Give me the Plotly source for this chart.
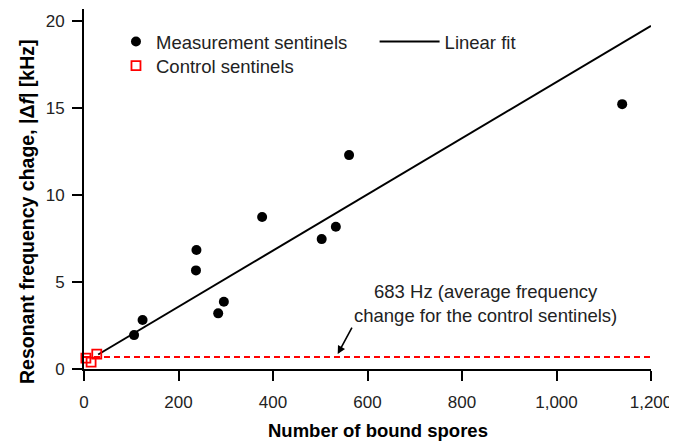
import plotly.graph_objects as go

# Data
meas_x = [106, 124, 237, 238, 284, 296, 377, 503, 533, 561, 1139]
meas_y = [1.95, 2.82, 5.67, 6.84, 3.2, 3.87, 8.74, 7.47, 8.18, 12.3, 15.23]
ctrl_x = [4, 15, 27]
ctrl_y = [0.63, 0.4, 0.86]
fit_x = [30, 1200]
fit_slope = 0.01615
fit_intercept = 0.35
fit_y = [fit_intercept + fit_slope * v for v in fit_x]
avg_ctrl_khz = 0.683
avg_x = [0, 1200]
x_ticks = [0, 200, 400, 600, 800, 1000, 1200]
y_ticks = [0, 5, 10, 15, 20]

FONT = "Arial, Liberation Sans, sans-serif"

fig = go.Figure()
fig.add_trace(go.Scatter(
    x=meas_x, y=meas_y, mode="markers", name="Measurement sentinels", legend="legend",
    marker=dict(color="black", size=10, symbol="circle"), cliponaxis=False))
fig.add_trace(go.Scatter(
    x=fit_x, y=fit_y, mode="lines", name="Linear fit", legend="legend2",
    line=dict(color="black", width=2), cliponaxis=False))
fig.add_trace(go.Scatter(
    x=ctrl_x, y=ctrl_y, mode="markers", name="Control sentinels", legend="legend3",
    marker=dict(color="red", size=9, symbol="square-open", line=dict(width=1.8, color="red")),
    cliponaxis=False))
fig.add_trace(go.Scatter(
    x=avg_x, y=[avg_ctrl_khz, avg_ctrl_khz], mode="lines", showlegend=False,
    line=dict(color="red", width=2, dash="6px,4px"), cliponaxis=False))

fig.add_annotation(
    x=849, y=3.76, xref="x", yref="y", showarrow=False,
    text="683 Hz (average frequency<br>change for the control sentinels)",
    font=dict(family=FONT, size=18.5, color="#222"), align="center")
fig.add_annotation(
    x=537, y=0.86, xref="x", yref="y", text="", showarrow=True,
    ax=15, ay=-28, arrowhead=2, arrowsize=1, arrowwidth=1.6, arrowcolor="black")

# axis titles
fig.add_annotation(
    x=0, y=0.436, xref="paper", yref="paper", xanchor="center", yanchor="middle",
    xshift=-57, showarrow=False, textangle=-90,
    text="<b>Resonant frequency chage, |Δ<i>f</i>| [kHz]</b>",
    font=dict(family=FONT, size=19.5, color="black"))
fig.add_annotation(
    x=0.5, y=0, xref="paper", yref="paper", xanchor="center", yanchor="middle",
    xshift=10, yshift=-61, showarrow=False,
    text="<b>Number of bound spores</b>",
    font=dict(family=FONT, size=18.5, color="black"))

legend_common = dict(orientation="v", xanchor="left", yanchor="top",
                     font=dict(family=FONT, size=18.5, color="#222"),
                     bgcolor="rgba(0,0,0,0)")

# page has an 8px body margin, so the figure is sized to fit inside the window
fig.update_layout(
    width=669, height=433,
    margin=dict(l=76, r=26, t=1, b=72),
    paper_bgcolor="white", plot_bgcolor="white",
    font=dict(family=FONT, size=17, color="#222"),
    showlegend=True,
    legend=dict(x=0.0564, y=0.961, itemwidth=30, **legend_common),
    legend2=dict(x=0.5125, y=0.961, itemwidth=60, **legend_common),
    legend3=dict(x=0.0564, y=0.894, itemwidth=30, **legend_common),
)
fig.update_xaxes(
    range=[0, 1200], tickvals=x_ticks, tickformat=",d",
    showline=True, linecolor="black", linewidth=2, mirror=False,
    ticks="outside", ticklen=10, tickwidth=2, tickcolor="black",
    ticklabelstandoff=7, ticklabeloverflow="allow",
    showgrid=False, zeroline=False,
    tickfont=dict(family=FONT, size=17, color="#222"))
fig.update_yaxes(
    range=[0, 20.7], tickvals=y_ticks,
    showline=True, linecolor="black", linewidth=2,
    ticks="outside", ticklen=10, tickwidth=2, tickcolor="black",
    ticklabelstandoff=4,
    showgrid=False, zeroline=False,
    tickfont=dict(family=FONT, size=17, color="#222"))

fig.write_html("out.html")
